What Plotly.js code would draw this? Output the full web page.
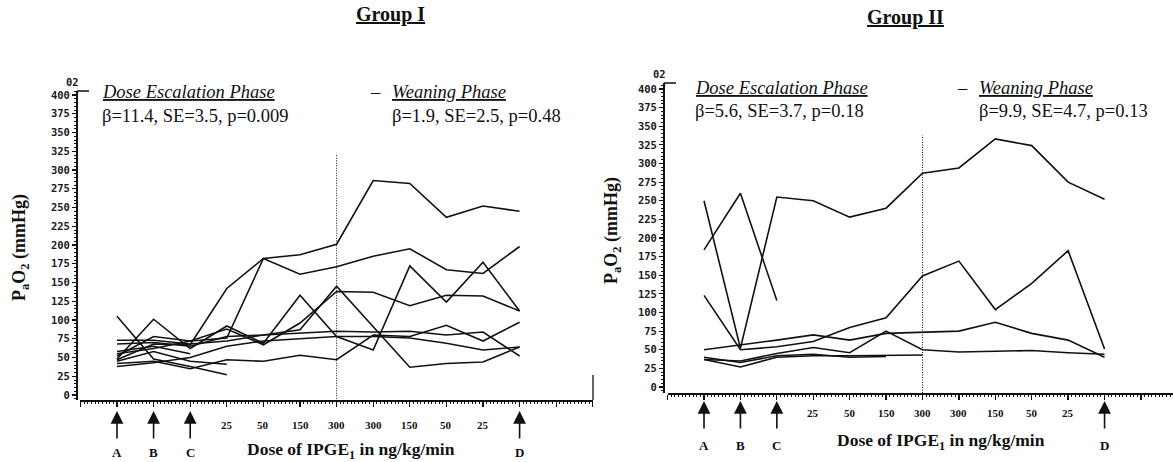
<!DOCTYPE html>
<html><head><meta charset="utf-8">
<script src="https://cdn.plot.ly/plotly-3.0.1.min.js"></script>
<style>html,body{margin:0;padding:0;background:#fff}#chart{width:1173px;height:462px}</style>
</head><body><div id="chart"></div>
<script>
// ---- data ----
const positions = [1,2,3,4,5,6,7,8,9,10,11,12];
const doseLabels = ['A','B','C','25','50','150','300','300','150','50','25','D'];
const arrowLabels = ['A','B','C','D'];
const arrowPositions = [1,2,3,12];

// Group I PaO2 (mmHg) per patient
const g1_p1 = [47,68,67,142,182,187,201,286,282,237,252,245];
const g1_p2 = [55,62,72,76,182,161,171,185,195,167,162,198];
const g1_p3 = [48,101,62,92,69,133,78,60,172,124,177,112];
const g1_p4 = [68,70,65,78,80,87,145,91,37,42,44,64];
const g1_p5 = [52,78,72,88,67,96,138,137,119,133,132,112];
const g1_p6 = [42,45,35,47,45,53,47,80,78,93,72,97];
const g1_p7 = [73,73,68,72,80,83,85,84,85,80,84,52];
const g1_p8 = [38,43,50,65,72,75,78,78,76,69,60,64];
const g1_p9 = [105,48,38,27];
const g1_p10 = [45,58,45,41];
const g1_p11 = [58,65,55];

// Group II PaO2 (mmHg) per patient
const g2_p1 = [250,52,255,250,228,240,287,294,333,324,275,252];
const g2_p2 = [184,260,116];
const g2_p3 = [123,50,54,61,80,93,149,169,104,139,183,51];
const g2_p4 = [50,56,63,70,63,72,73,75,87,72,63,40];
const g2_p5 = [37,35,45,53,46,75,50,47,48,49,46,44];
const g2_p6 = [37,27,40,42,42,42,43];
const g2_p7 = [40,33,42,44,40,41];

const group1 = [g1_p1,g1_p2,g1_p3,g1_p4,g1_p5,g1_p6,g1_p7,g1_p8,g1_p9,g1_p10,g1_p11];
const group2 = [g2_p1,g2_p2,g2_p3,g2_p4,g2_p5,g2_p6,g2_p7];

const stats = {
  g1esc: 'β=11.4, SE=3.5, p=0.009', g1wean: 'β=1.9, SE=2.5, p=0.48',
  g2esc: 'β=5.6, SE=3.7, p=0.18',  g2wean: 'β=9.9, SE=4.7, p=0.13'
};

// ---- layout helpers ----
const W = 1173, H = 462;
const fx = v => v / W;
const fy = v => 1 - v / H;
const SERIF = 'Liberation Serif, Times New Roman, serif';
const INK = '#111';

const traces = [];
group1.forEach(vals => traces.push({x: positions.slice(0, vals.length), y: vals, type: 'scatter', mode: 'lines',
  line: {color: INK, width: 1.6}, xaxis: 'x', yaxis: 'y', showlegend: false, hoverinfo: 'skip'}));
group2.forEach(vals => traces.push({x: positions.slice(0, vals.length), y: vals, type: 'scatter', mode: 'lines',
  line: {color: INK, width: 1.6}, xaxis: 'x2', yaxis: 'y2', showlegend: false, hoverinfo: 'skip'}));

const yTickFont = {family: 'DejaVu Sans Mono, monospace', size: 10.5, color: '#1a1a1a', weight: 'bold'};
function xAx(domain, range, anchor) {
  return {domain, range, anchor, showgrid: false, zeroline: false, showline: true, linecolor: INK, linewidth: 1.6,
    ticks: 'outside', tickmode: 'linear', tick0: 0, dtick: 1, ticklen: 5, tickwidth: 1.3, tickcolor: INK,
    showticklabels: false, fixedrange: true,
    minor: {ticks: 'outside', dtick: 0.1, tick0: 0, ticklen: 2.5, tickwidth: 1, tickcolor: INK}};
}
function yAx(domain, range, pos) {
  return {domain, range, anchor: 'free', position: pos, showgrid: false, zeroline: false,
    showline: true, linecolor: INK, linewidth: 2.2,
    ticks: 'outside', tickmode: 'linear', tick0: 0, dtick: 25, ticklen: 4, tickwidth: 1.2, tickcolor: INK,
    tickfont: yTickFont, fixedrange: true,
    minor: {ticks: 'outside', dtick: 5, ticklen: 2, tickwidth: 1, tickcolor: INK}};
}

const layout = {
  width: W, height: H, margin: {l: 0, r: 0, t: 0, b: 0},
  paper_bgcolor: '#fff', plot_bgcolor: 'rgba(0,0,0,0)',
  xaxis: xAx([fx(80.4), fx(592.8)], [0, 14], 'y'),
  yaxis: yAx([fy(400.25), fy(91.25)], [-7, 405], fx(77)),
  xaxis2: xAx([fx(667.6), 1], [0, 13.88], 'y2'),
  yaxis2: yAx([fy(393), fy(83)], [-8, 408], fx(664)),
  shapes: [], annotations: []
};

const panels = [
  {xa: 'x', ya: 'y', title: 'Group I', titleX: 390, titleY: 15, escX: 100, escY: 92, statY: 116,
   weanDashX: 375, weanX: 390, weanY: 92, ytitleX: 20, ytitleY: 248, tipY: 411, stemLen: 29, letterY: 452,
   doseY: 425, axisTitleX: 351, axisTitleY: 450, esc: stats.g1esc, wean: stats.g1wean,
   dotTop: 322, dotBot: -5, yAxisX: 77, topY: 91, zeroLabel: [64, 82]},
  {xa: 'x2', ya: 'y2', title: 'Group II', titleX: 905, titleY: 17, escX: 693, escY: 88, statY: 111,
   weanDashX: 962, weanX: 977, weanY: 88, ytitleX: 612, ytitleY: 231, tipY: 401, stemLen: 29, letterY: 445,
   doseY: 413, axisTitleX: 941, axisTitleY: 441, esc: stats.g2esc, wean: stats.g2wean,
   dotTop: 338, dotBot: -8, yAxisX: 664, topY: 83, zeroLabel: [651, 74]}
];

const TXT = 18.5;
panels.forEach(p => {
  const A = layout.annotations, S = layout.shapes;
  A.push({xref: 'paper', yref: 'paper', x: fx(p.titleX), y: fy(p.titleY), text: '<b><u>' + p.title + '</u></b>',
    showarrow: false, font: {family: SERIF, size: 20, color: INK}, xanchor: 'center', yanchor: 'middle'});
  A.push({xref: 'paper', yref: 'paper', x: fx(p.escX), y: fy(p.escY), text: '<i><u>Dose Escalation Phase</u></i>',
    showarrow: false, font: {family: SERIF, size: TXT, color: INK}, xanchor: 'left', yanchor: 'middle'});
  A.push({xref: 'paper', yref: 'paper', x: fx(p.escX), y: fy(p.statY), text: p.esc,
    showarrow: false, font: {family: SERIF, size: TXT, color: INK}, xanchor: 'left', yanchor: 'middle'});
  A.push({xref: 'paper', yref: 'paper', x: fx(p.weanDashX), y: fy(p.weanY), text: '–',
    showarrow: false, font: {family: SERIF, size: TXT, color: INK}, xanchor: 'center', yanchor: 'middle'});
  A.push({xref: 'paper', yref: 'paper', x: fx(p.weanX), y: fy(p.weanY), text: '<i><u>Weaning Phase</u></i>',
    showarrow: false, font: {family: SERIF, size: TXT, color: INK}, xanchor: 'left', yanchor: 'middle'});
  A.push({xref: 'paper', yref: 'paper', x: fx(p.weanX), y: fy(p.statY), text: p.wean,
    showarrow: false, font: {family: SERIF, size: TXT, color: INK}, xanchor: 'left', yanchor: 'middle'});
  A.push({xref: 'paper', yref: 'paper', x: fx(p.ytitleX), y: fy(p.ytitleY), text: '<b>P<sub>a</sub>O<sub>2</sub> (mmHg)</b>',
    textangle: -90, showarrow: false, font: {family: SERIF, size: 18, color: INK}, xanchor: 'center', yanchor: 'middle'});
  A.push({xref: 'paper', yref: 'paper', x: fx(p.axisTitleX), y: fy(p.axisTitleY), text: '<b>Dose of IPGE<sub>1</sub> in ng/kg/min</b>',
    showarrow: false, font: {family: SERIF, size: 17.5, color: INK}, xanchor: 'center', yanchor: 'middle'});
  A.push({xref: 'paper', yref: 'paper', x: fx(p.zeroLabel[0]), y: fy(p.zeroLabel[1]), text: '02',
    showarrow: false, font: yTickFont, xanchor: 'left', yanchor: 'middle'});
  positions.forEach((pos, i) => {
    const lbl = doseLabels[i];
    if (arrowLabels.indexOf(lbl) >= 0) return;
    A.push({xref: p.xa, yref: 'paper', x: pos, y: fy(p.doseY), text: '<b>' + lbl + '</b>', showarrow: false,
      font: {family: SERIF, size: 11, color: INK}, xanchor: 'center', yanchor: 'middle'});
  });
  arrowPositions.forEach((pos, i) => {
    A.push({xref: p.xa, yref: 'paper', x: pos, y: fy(p.tipY), ax: 0, ay: p.stemLen, text: '', showarrow: true,
      arrowhead: 2, arrowsize: 1.6, arrowwidth: 1.6, arrowcolor: INK, standoff: 0, startstandoff: 0});
    A.push({xref: p.xa, yref: 'paper', x: pos, y: fy(p.letterY), text: '<b>' + arrowLabels[i] + '</b>', showarrow: false,
      font: {family: SERIF, size: 13, color: INK}, xanchor: 'center', yanchor: 'middle'});
  });
  S.push({type: 'line', xref: p.xa, yref: p.ya, x0: 7, x1: 7, y0: p.dotBot, y1: p.dotTop,
    line: {color: INK, width: 1, dash: '1px,1.5px'}});
  S.push({type: 'line', xref: 'paper', yref: 'paper', x0: fx(p.yAxisX), x1: fx(p.yAxisX + 12), y0: fy(p.topY), y1: fy(p.topY),
    line: {color: INK, width: 1.5}});
  S.push({type: 'line', xref: 'paper', yref: 'paper', x0: fx(p.yAxisX), x1: fx(p.yAxisX), y0: fy(p.topY), y1: fy(p.topY + 4),
    line: {color: INK, width: 2.2}});
});
layout.shapes.push({type: 'line', xref: 'paper', yref: 'paper', x0: fx(593), x1: fx(593), y0: fy(400), y1: fy(375),
  line: {color: INK, width: 1.3}});

Plotly.newPlot('chart', traces, layout, {staticPlot: true, displayModeBar: false});
</script>
</body></html>
